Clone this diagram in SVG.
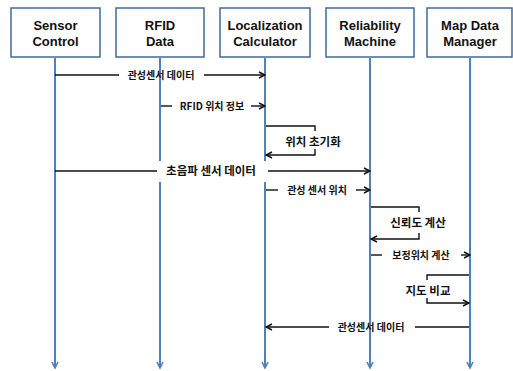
<svg xmlns="http://www.w3.org/2000/svg" width="513" height="371" viewBox="0 0 513 371">
<style>
.box{fill:#fff;stroke:#41689a;stroke-width:1.5}
.title{font-family:"Liberation Sans","Noto Sans",sans-serif;font-weight:bold;font-size:13px;fill:#111;text-anchor:middle}
.life{stroke:#4f81bd;stroke-width:2;fill:none}
.msg{stroke:#111;stroke-width:1.4;fill:none}
.lbl{font-family:"Noto Sans CJK KR","Liberation Sans",sans-serif;font-weight:bold;font-size:10px;fill:#111;text-anchor:middle}
.lbl2{font-family:"Noto Sans CJK KR","Liberation Sans",sans-serif;font-weight:bold;font-size:11.5px;fill:#111;text-anchor:middle}
</style>
<defs>
<marker id="ah" markerWidth="8" markerHeight="8" refX="7" refY="4" orient="auto" markerUnits="userSpaceOnUse">
<path d="M1,1 L7,4 L1,7" fill="none" stroke="#111" stroke-width="1.5"/>
</marker>
<marker id="lh" markerWidth="8" markerHeight="8" refX="7" refY="4" orient="auto" markerUnits="userSpaceOnUse">
<path d="M1,1 L7,4 L1,7" fill="none" stroke="#4f81bd" stroke-width="1.6"/>
</marker>
</defs>
<g id="lifelines">
<line class="life" x1="55" y1="58" x2="55" y2="368" marker-end="url(#lh)"/>
<line class="life" x1="160" y1="58" x2="160" y2="368" marker-end="url(#lh)"/>
<line class="life" x1="265" y1="58" x2="265" y2="368" marker-end="url(#lh)"/>
<line class="life" x1="370" y1="58" x2="370" y2="368" marker-end="url(#lh)"/>
<line class="life" x1="470" y1="58" x2="470" y2="368" marker-end="url(#lh)"/>
</g>
<g id="sensor-control"><rect class="box" x="11" y="8" width="89" height="49"/><text class="title" x="55.5" y="30">Sensor</text><text class="title" x="55.5" y="46">Control</text></g>
<g id="rfid-data"><rect class="box" x="116" y="8" width="88" height="49"/><text class="title" x="160" y="30">RFID</text><text class="title" x="160" y="46">Data</text></g>
<g id="localization-calculator"><rect class="box" x="220" y="8" width="90" height="49"/><text class="title" x="265" y="30">Localization</text><text class="title" x="265" y="46">Calculator</text></g>
<g id="reliability-machine"><rect class="box" x="326" y="8" width="88" height="49"/><text class="title" x="370" y="30">Reliability</text><text class="title" x="370" y="46">Machine</text></g>
<g id="map-data-manager"><rect class="box" x="427" y="8" width="85" height="49"/><text class="title" x="470" y="30">Map Data</text><text class="title" x="470" y="46">Manager</text></g>
<g id="connectors">
<line class="msg" x1="55" y1="75" x2="119" y2="75"/>
<line class="msg" x1="204" y1="75" x2="265" y2="75" marker-end="url(#ah)"/>
<text class="lbl" x="161" y="78.5">관성센서 데이터</text>

<line class="msg" x1="161" y1="106" x2="172" y2="106"/>
<line class="msg" x1="251" y1="106" x2="265" y2="106" marker-end="url(#ah)"/>
<text class="lbl" x="212" y="109.5">RFID 위치 정보</text>

<path class="msg" d="M266,126 H315 V131"/>
<path class="msg" d="M315,149 V155 H266" marker-end="url(#ah)"/>
<text class="lbl2" x="313" y="145.5">위치 초기화</text>

<rect x="158" y="161" width="108" height="21" fill="#fff"/>
<line class="msg" x1="55" y1="171" x2="157" y2="171"/>
<line class="msg" x1="268" y1="171" x2="370" y2="171" marker-end="url(#ah)"/>
<text class="lbl2" x="211" y="175">초음파 센서 데이터</text>

<line class="msg" x1="266" y1="190" x2="278" y2="190"/>
<line class="msg" x1="356" y1="190" x2="370" y2="190" marker-end="url(#ah)"/>
<text class="lbl" x="317" y="193.5">관성 센서 위치</text>

<path class="msg" d="M371,207 H419 V212"/>
<path class="msg" d="M419,233 V239 H371" marker-end="url(#ah)"/>
<text class="lbl2" x="418" y="226.5">신뢰도 계산</text>

<line class="msg" x1="371" y1="255" x2="382" y2="255"/>
<line class="msg" x1="461" y1="255" x2="470" y2="255" marker-end="url(#ah)"/>
<text class="lbl" x="421" y="258.5">보정위치 계산</text>

<path class="msg" d="M469,275 H427 V280"/>
<path class="msg" d="M427,298 V303 H469" marker-end="url(#ah)"/>
<text class="lbl2" x="428" y="294.5">지도 비교</text>

<line class="msg" x1="469" y1="327" x2="415" y2="327"/>
<line class="msg" x1="329" y1="327" x2="266" y2="327" marker-end="url(#ah)"/>
<text class="lbl" x="371" y="330.5">관성센서 데이터</text>
</g>
</svg>
